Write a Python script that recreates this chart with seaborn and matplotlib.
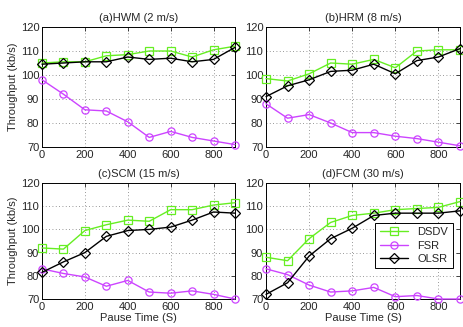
import matplotlib
matplotlib.use("Agg")
import matplotlib.pyplot as plt
import seaborn as sns
import pandas as pd

sns.set_style("white")
plt.rcParams['font.family'] = ['Liberation Sans', 'DejaVu Sans']

pause = [0, 100, 200, 300, 400, 500, 600, 700, 800, 900]

titles = ["(a)HWM (2 m/s)", "(b)HRM (8 m/s)", "(c)SCM (15 m/s)", "(d)FCM (30 m/s)"]

dsdv_a = [105, 105.5, 105.5, 108, 108.5, 110, 110, 107.5, 110.5, 112]
fsr_a = [98, 92, 85.5, 85, 80.5, 74, 76.5, 74, 72.5, 71]
olsr_a = [104.5, 105, 105.5, 105.5, 107.5, 106.5, 107, 105.5, 106.5, 111.5]

dsdv_b = [98.5, 97.5, 100.5, 105, 104.5, 106.5, 103, 110, 110.5, 110.5]
fsr_b = [88, 82, 83.5, 80, 76, 76, 74.5, 73.5, 72, 70.5]
olsr_b = [91, 95.5, 98, 101.5, 102, 104.5, 100.5, 106, 107.5, 111]

dsdv_c = [92, 91.5, 99.5, 102, 104, 103.5, 108.5, 108.5, 110.5, 111.5]
fsr_c = [83, 81, 79.5, 75.5, 78, 73, 72.5, 73.5, 72, 70]
olsr_c = [81.5, 86, 90, 97, 99.5, 100, 101, 104, 107.5, 107]

dsdv_d = [88, 86.5, 96, 103, 106, 107, 108.5, 109, 109.5, 112]
fsr_d = [83, 80.5, 76, 73, 73.5, 75, 71, 71.5, 70, 70]
olsr_d = [72, 77, 88.5, 96, 100.5, 106, 107, 107, 107, 108]

protocols = ["DSDV", "FSR", "OLSR"]
colors = {"DSDV": "#66ee22", "FSR": "#cc44ff", "OLSR": "#000000"}
markers = {"DSDV": "s", "FSR": "o", "OLSR": "D"}

panels = [
    {"DSDV": dsdv_a, "FSR": fsr_a, "OLSR": olsr_a},
    {"DSDV": dsdv_b, "FSR": fsr_b, "OLSR": olsr_b},
    {"DSDV": dsdv_c, "FSR": fsr_c, "OLSR": olsr_c},
    {"DSDV": dsdv_d, "FSR": fsr_d, "OLSR": olsr_d},
]

W, H = 463, 327
fig = plt.figure(figsize=(W / 100, H / 100), dpi=100)
positions = [
    (42 / W, (H - 147) / H, 193 / W, 120 / H),
    (266 / W, (H - 147) / H, 194 / W, 120 / H),
    (42 / W, (H - 299) / H, 193 / W, 116 / H),
    (266 / W, (H - 299) / H, 194 / W, 116 / H),
]

for i, (pos, title, data) in enumerate(zip(positions, titles, panels)):
    ax = fig.add_axes(pos)
    for p in protocols:
        df = pd.DataFrame({"Pause": pause, "Throughput": data[p]})
        sns.lineplot(data=df, x="Pause", y="Throughput", ax=ax, color=colors[p],
                     marker=markers[p], markerfacecolor="none",
                     markeredgecolor=colors[p], markeredgewidth=0.9,
                     markersize=5.2 if p != "OLSR" else 4.8, linewidth=1.0,
                     label=p, legend=False, clip_on=False, zorder=3)
    ax.set_xlim(0, 900)
    ax.set_ylim(70, 120)
    ax.set_xticks([0, 200, 400, 600, 800])
    ax.set_yticks([70, 80, 90, 100, 110, 120])
    ax.tick_params(direction="in", labelsize=8, length=3, width=0.6, pad=2,
                   top=True, right=True)
    ax.grid(True, linestyle=(0, (1, 3)), color="#777777", linewidth=0.6)
    for s in ax.spines.values():
        s.set_linewidth(0.7)
        s.set_color("black")
    ax.set_title(title, fontsize=8, pad=4)
    if i % 2 == 0:
        ax.set_ylabel("Throughput (kb/s)", fontsize=8, labelpad=2)
    else:
        ax.set_ylabel("")
    if i >= 2:
        ax.set_xlabel("Pause Time (S)", fontsize=8, labelpad=1)
    else:
        ax.set_xlabel("")
    if i == 3:
        ax.legend(loc="center right", bbox_to_anchor=(0.99, 0.46), fontsize=8,
                  frameon=True, fancybox=False, edgecolor="black",
                  handlelength=2.6, borderpad=0.4, labelspacing=0.3,
                  framealpha=1)
        ax.get_legend().get_frame().set_linewidth(0.7)

fig.savefig("out.png", dpi=100)
